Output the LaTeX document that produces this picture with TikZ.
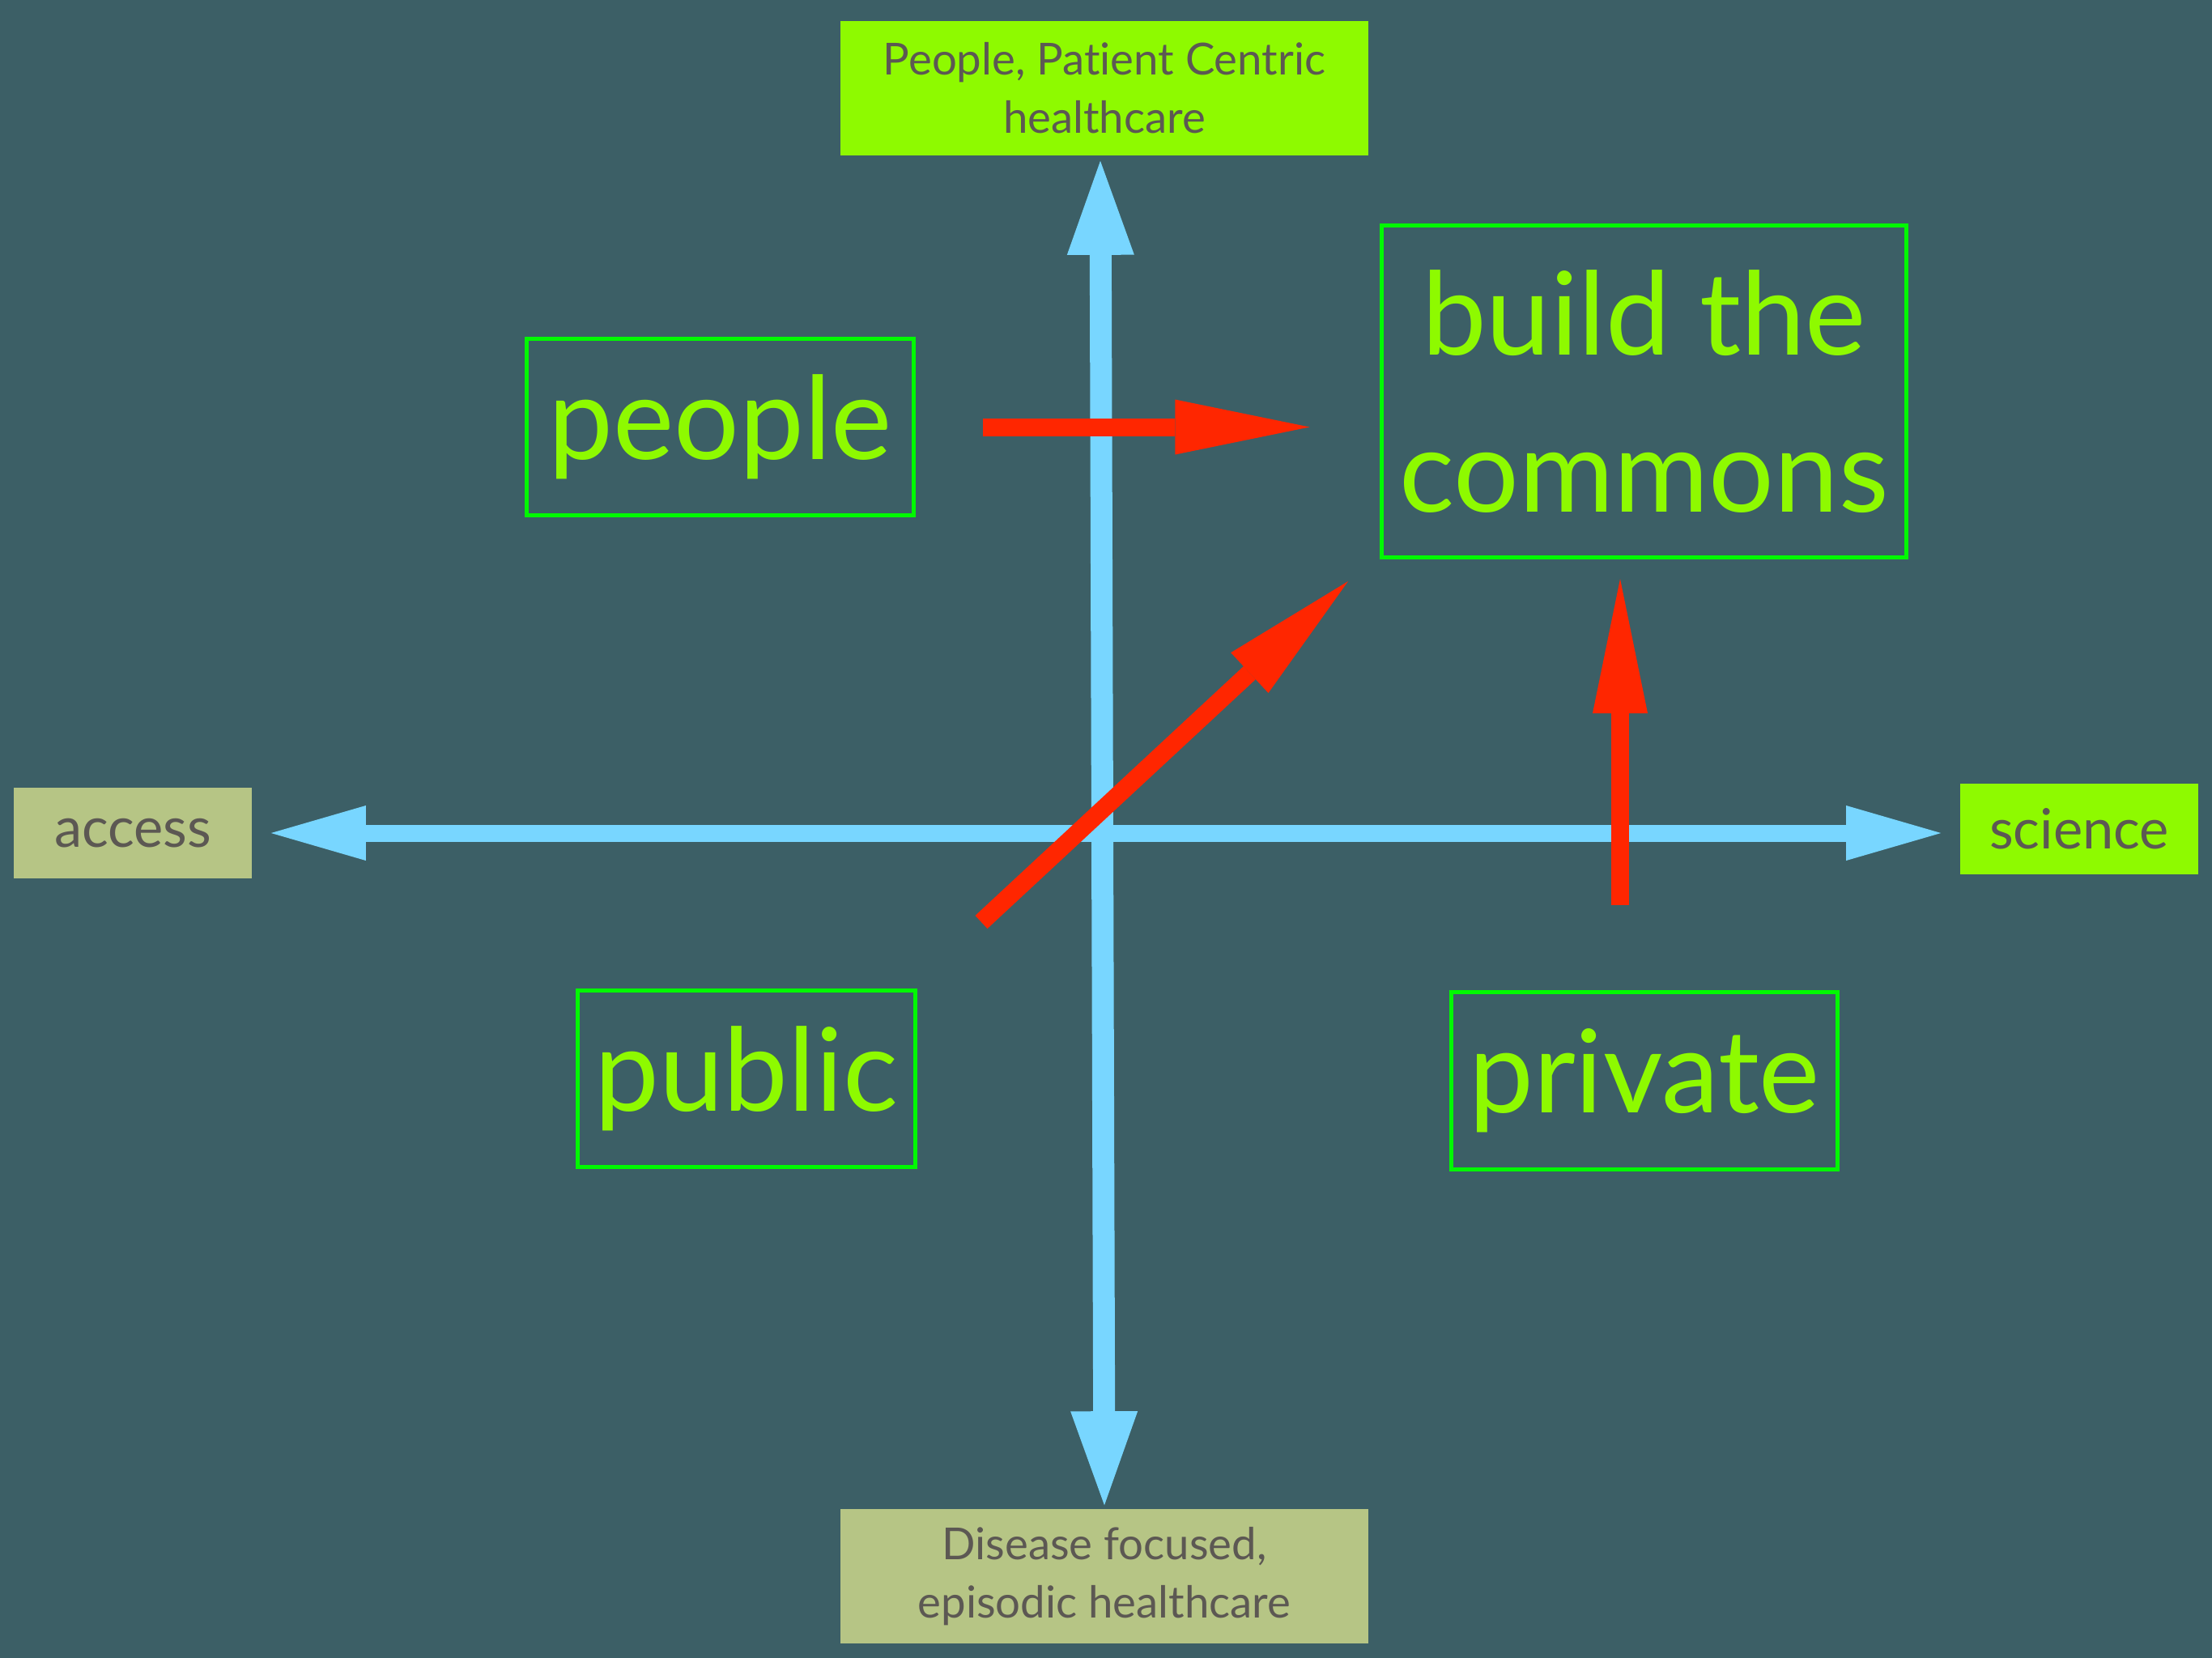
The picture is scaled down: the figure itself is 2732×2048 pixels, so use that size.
\documentclass[tikz,border=0pt]{standalone}
\usepackage{fontspec}
\setmainfont[Ligatures=NoCommon]{Lato}
\usetikzlibrary{arrows.meta}

\definecolor{slate}{HTML}{3C5F66}
\definecolor{skyblue}{HTML}{78D6FF}
\definecolor{arrowred}{HTML}{FF2600}
\definecolor{lime}{HTML}{8EFA00}
\definecolor{framegreen}{HTML}{00F900}
\definecolor{sage}{HTML}{B6C585}
\definecolor{textgray}{HTML}{5C5853}

\tikzset{
  labelbox/.style={inner sep=0pt, text=textgray, align=center, minimum width=2.94cm, minimum height=1.11cm,
    font=\fontsize{19.5pt}{24pt}\selectfont},
  polebox/.style={inner sep=0pt, text=textgray, align=center, minimum width=6.52cm, minimum height=1.66cm,
    font=\fontsize{15.5pt}{20.5pt}\selectfont},
  ideabox/.style={draw=framegreen, line width=0.05cm, inner sep=0pt, text=lime, align=center,
    font=\fontsize{40.5pt}{55pt}\selectfont},
  haxis/.style={skyblue, line width=0.21cm,
    {Triangle[length=1.17cm,width=0.68cm,line width=0pt]}-{Triangle[length=1.17cm,width=0.68cm,line width=0pt]}},
  vaxis/.style={skyblue, line width=0.27cm,
    {Triangle[length=1.16cm,width=0.83cm,line width=0pt]}-{Triangle[length=1.16cm,width=0.83cm,line width=0pt]}},
  push/.style={arrowred, line width=0.22cm, -{Triangle[length=1.66cm,width=0.68cm,line width=0pt]}}
}

\begin{document}
\begin{tikzpicture}[x=0.01cm, y=-0.01cm]
    \fill[slate] (0,0) rectangle (2732,2048);

    % Ends of the two axes
    \node[polebox, fill=lime] (patient) at (1364,109) {People, Patient Centric\\healthcare};
    \node[polebox, fill=sage] (disease) at (1364,1947) {Disease focused,\\episodic healthcare};
    \node[labelbox, fill=sage] (access) at (164,1029) {access};
    \node[labelbox, fill=lime] (science) at (2568,1024) {science};

    % Quadrant labels
    \node[ideabox, minimum width=4.78cm, minimum height=2.18cm] (people) at (889.5,527.5) {people};
    \node[ideabox, minimum width=6.48cm, minimum height=4.10cm] (commons) at (2030.5,483.5) {build the\\commons};
    \node[ideabox, minimum width=4.17cm, minimum height=2.18cm] (public) at (922,1332.5) {public};
    \node[ideabox, minimum width=4.77cm, minimum height=2.19cm] (private) at (2031,1335) {private};

    % Draw axes
    \draw[vaxis] ([xshift=-0.05cm, yshift=-0.06cm]patient.south) -- ([yshift=0.04cm]disease.north);
    \draw[haxis, shorten <=0.23cm, shorten >=0.23cm] (access.east) -- (access.east -| science.west);

    % Moves towards the commons
    \coordinate (pubfoot) at (1212,1139);
    \coordinate (commonsfoot) at (1665,718);
    \coordinate (privfoot) at (2001,1118);
    \coordinate (commonsbase) at (2001,715);
    \draw[push, shorten <=0.83cm] (people.east) -- ++(4.86cm,0);
    \draw[push] (pubfoot) -- (commonsfoot);
    \draw[push] (privfoot) -- (commonsbase);
\end{tikzpicture}
\end{document}
